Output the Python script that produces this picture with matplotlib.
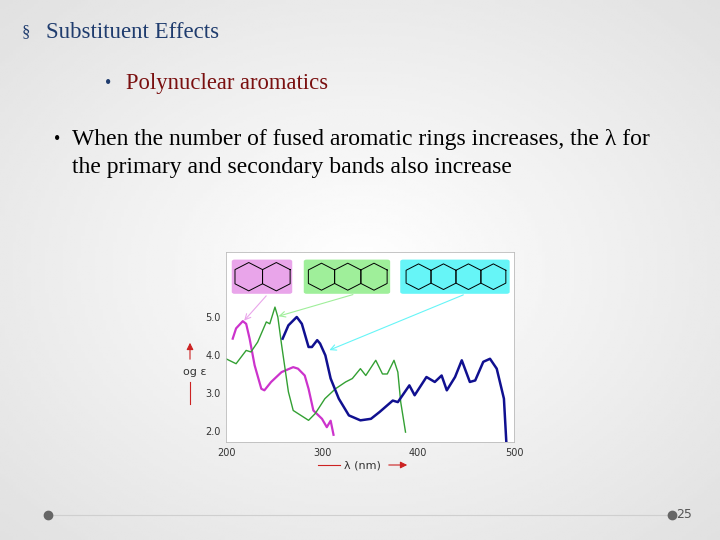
import numpy as np
import matplotlib
matplotlib.use("Agg")
import matplotlib.pyplot as plt
from matplotlib.patches import FancyBboxPatch

# spectra (nm, log eps)
naph_x = [207, 210.5, 217.5, 221, 224.6, 229.8, 236.8, 240, 247, 257.9, 270, 275, 282, 286, 291, 300, 305, 309, 312]
naph_y = [4.43, 4.7, 4.89, 4.82, 4.43, 3.73, 3.11, 3.07, 3.29, 3.55, 3.68, 3.64, 3.46, 3.11, 2.54, 2.32, 2.1, 2.27, 1.9]
anth_x = [200, 210.5, 221, 226, 233, 242, 245.6, 251, 254, 258, 265, 270, 286, 293, 303, 314, 324.6, 331.6, 340, 345.6, 356, 363, 368, 375, 379, 382, 387]
anth_y = [3.9, 3.77, 4.12, 4.08, 4.34, 4.87, 4.82, 5.26, 5.0, 4.25, 3.03, 2.54, 2.28, 2.46, 2.85, 3.11, 3.29, 3.38, 3.64, 3.46, 3.86, 3.5, 3.5, 3.86, 3.55, 2.76, 1.97]
tetr_x = [259, 265, 273.7, 279, 286, 289.5, 295, 298, 303.5, 309, 317.5, 328, 340, 351, 360, 373.7, 379, 391, 396.5, 408.8, 417.5, 424.6, 430, 438.6, 445.6, 454, 459.6, 468, 475, 482, 489.5, 492]
tetr_y = [4.43, 4.78, 5.0, 4.82, 4.21, 4.21, 4.39, 4.3, 3.99, 3.38, 2.85, 2.41, 2.28, 2.32, 2.5, 2.8, 2.76, 3.2, 2.94, 3.42, 3.29, 3.46, 3.07, 3.42, 3.86, 3.29, 3.33, 3.82, 3.9, 3.64, 2.85, 1.71]
x_ticks = [200, 300, 400, 500]
y_ticks = [2, 3, 4, 5]
y_tick_labels = ["2.0", "3.0", "4.0", "5.0"]

serif = "Liberation Serif"
fig = plt.figure(figsize=(7.2, 5.4), dpi=100)
bg = fig.add_axes([0, 0, 1, 1])
bg.set_axis_off()
yy, xx = np.mgrid[0:1:200j, 0:1:200j]
grad = 1 - 0.12 * np.hypot(xx - 0.5, yy - 0.5) * 1.4
bg.imshow(grad, cmap="gray", vmin=0, vmax=1, extent=[0, 1, 0, 1], aspect="auto")
bg.set_xlim(0, 1); bg.set_ylim(0, 1)

fig.text(22/720, 1 - 32/540, "§", fontsize=12, color="#1f3c6e", family=serif, va="center")
fig.text(46/720, 1 - 32/540, "Substituent Effects", fontsize=16.5, color="#1f3c6e", family=serif, va="center")
fig.text(105/720, 1 - 83/540, "•", fontsize=13, color="#1f3c6e", family=serif, va="center")
fig.text(126/720, 1 - 83/540, "Polynuclear aromatics", fontsize=16.3, color="#7a1010", family=serif, va="center")
fig.text(54/720, 1 - 139/540, "•", fontsize=13, color="black", family=serif, va="center")
fig.text(72/720, 1 - 139/540, "When the number of fused aromatic rings increases, the λ for",
         fontsize=17, color="black", family=serif, va="center")
fig.text(72/720, 1 - 168/540, "the primary and secondary bands also increase",
         fontsize=17, color="black", family=serif, va="center")

# footer
bg.plot([48/720, 672/720], [1 - 515/540] * 2, color="#cfcfcf", lw=0.8)
bg.plot([48/720, 672/720], [1 - 515/540] * 2, "o", color="#666666", ms=6)
fig.text(676/720, 1 - 515/540, "25", fontsize=9, color="#555555", va="center")

# chart
ax = fig.add_axes([226/720, 1 - 442/540, 288/720, 190/540])
ax.set_facecolor("white")
ax.plot(naph_x, naph_y, color="#cc33cc", lw=1.6)
ax.plot(anth_x, anth_y, color="#33a033", lw=1.0)
ax.plot(tetr_x, tetr_y, color="#101090", lw=1.8)
ax.set_xlim(200, 500)
ax.set_ylim(1.71, 6.71)
ax.set_xticks(x_ticks)
ax.set_yticks(y_ticks, y_tick_labels)
ax.tick_params(labelsize=7, length=0, colors="#333333", pad=4)
for s in ax.spines.values():
    s.set_color("#bbbbbb"); s.set_linewidth(0.6)

# molecule boxes
boxes = [(0.02, 0.21, "#e9a5ea", 2, (217, 4.85)),
         (0.27, 0.30, "#9fef9a", 3, (252, 5.0)),
         (0.605, 0.38, "#66f5f7", 4, (305, 4.1))]
for x0, w, col, n, tip in boxes:
    ax.add_patch(FancyBboxPatch((x0, 0.78), w, 0.18, boxstyle="round,pad=0,rounding_size=0.01",
                                transform=ax.transAxes, color=col, lw=0))
    r = w / (n * 1.9)
    cx0 = x0 + (w - n * r * np.sqrt(3) * 0.98) / 2 + r * np.sqrt(3) / 2
    ang = np.deg2rad(np.arange(30, 391, 60))
    for k in range(n):
        cx = cx0 + k * r * np.sqrt(3)
        ax.plot(cx + r * np.cos(ang), 0.87 + r * 1.35 * np.sin(ang), color="black",
                lw=0.7, transform=ax.transAxes)
    ax.annotate("", xy=tip, xycoords="data", xytext=(x0 + w * 0.6, 0.78), textcoords="axes fraction",
                arrowprops=dict(arrowstyle="->", color=col, lw=0.8))

fig.text(183/720, 1 - 372/540, "og ε", fontsize=8, va="center", color="#333333")
bg.annotate("", xy=(190/720, 1 - 340/540), xytext=(190/720, 1 - 362/540),
            arrowprops=dict(arrowstyle="-|>", color="#cc2222", lw=0.8))
bg.plot([190/720] * 2, [1 - 382/540, 1 - 404/540], color="#cc2222", lw=0.8)
fig.text(362/720, 1 - 465/540, "λ (nm)", fontsize=8, ha="center", va="center", color="#333333")
bg.plot([318/720, 340/720], [1 - 465/540] * 2, color="#cc2222", lw=0.8)
bg.annotate("", xy=(410/720, 1 - 465/540), xytext=(386/720, 1 - 465/540),
            arrowprops=dict(arrowstyle="-|>", color="#cc2222", lw=0.8))

fig.savefig("out.png", dpi=100)
